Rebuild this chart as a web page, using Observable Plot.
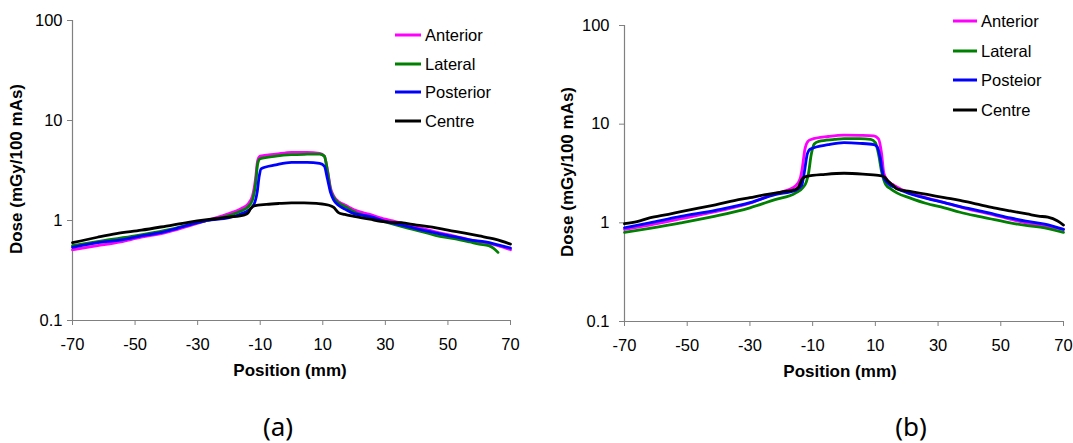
<!DOCTYPE html>
<html><head><meta charset="utf-8">
<script src="https://cdn.jsdelivr.net/npm/d3@7"></script>
<script src="https://cdn.jsdelivr.net/npm/@observablehq/plot@0.6"></script>
<style>
body{margin:0;background:#fff;}
#wrap{position:relative;width:1073px;height:443px;overflow:hidden;font-family:"Liberation Sans",Arial,sans-serif;color:#000;}
.panel{position:absolute;top:0;}
.ytitle{position:absolute;font-weight:bold;font-size:17px;white-space:nowrap;transform:translate(-50%,-50%) rotate(-90deg);}
.xtitle{position:absolute;font-weight:bold;font-size:17px;white-space:nowrap;transform:translate(-50%,-50%);}
.cap{position:absolute;font-family:"Noto Sans",sans-serif;font-size:26px;white-space:nowrap;transform:translate(-50%,-50%);}
.row{position:absolute;display:flex;align-items:center;white-space:nowrap;font-size:16.5px;transform:translateY(-50%);}
.sw{display:inline-block;height:3px;margin-right:4px;}
</style>
</head><body>
<div id="wrap"></div>
<script>
// ---- shared axis settings ----
const xDomain = [-70, 70];
const yDomain = [0.1, 100];
const xTicks = [-70, -50, -30, -10, 10, 30, 50, 70];
const yTicks = [0.1, 1, 10, 100];
const seriesNames = ["Anterior", "Lateral", "Posterior", "Centre"];
const seriesNamesB = ["Anterior", "Lateral", "Posteior", "Centre"];
const seriesColors = ["#ff00ff", "#008000", "#0000ff", "#000000"];
const yTitle = "Dose (mGy/100 mAs)";
const xTitle = "Position (mm)";
const captions = ["(a)", "(b)"];

// ---- panel (a) ----
const aAntX = [-70,-62,-56,-48,-40,-33,-27,-20,-16,-14,-12.5,-11.5,-10.8,-10,-5,0,5,9,10.5,11.5,12.5,13.5,15,17.5,20,25,30,36,42,46,52,57,62,66,70];
const aAntY = [0.51,0.56,0.60,0.68,0.76,0.88,1.0,1.17,1.32,1.45,1.75,2.6,4.0,4.4,4.6,4.8,4.8,4.7,4.4,3.2,2.1,1.75,1.55,1.41,1.28,1.15,1.03,0.93,0.83,0.77,0.70,0.64,0.60,0.56,0.51];
const aLatX = [-70,-60,-50,-40,-30,-27,-20,-16,-14,-12.5,-11.5,-10.8,-10,-5,0,5,9,10.5,11.5,12.5,13.5,15,17.5,20,25,30,36,42,46,52,57,60,63,64.5,66];
const aLatY = [0.56,0.63,0.70,0.80,0.95,1.0,1.12,1.25,1.36,1.6,2.3,3.7,4.15,4.4,4.55,4.6,4.62,4.4,3.1,2.0,1.7,1.5,1.36,1.22,1.08,0.97,0.86,0.77,0.71,0.66,0.61,0.58,0.56,0.53,0.48];
const aPosX = [-70,-60,-56,-48,-40,-33,-27,-20,-16,-14,-12,-11,-10.3,-9.7,-5,0,5,9,10.5,11.5,12.5,13.5,15,17.5,20,25,30,36,42,46,52,57,62,66,70];
const aPosY = [0.54,0.61,0.63,0.70,0.78,0.90,1.0,1.07,1.17,1.25,1.45,1.9,2.8,3.3,3.6,3.82,3.82,3.72,3.5,2.6,1.9,1.6,1.42,1.28,1.17,1.10,0.98,0.89,0.80,0.75,0.69,0.64,0.61,0.57,0.53];
const aCenX = [-70,-62,-56,-48,-40,-33,-27,-20,-15,-14,-13,-12,-8,-4,0,4,8,12,13.5,15,17,20,25,30,35,40,45,50,55,60,65,70];
const aCenY = [0.60,0.68,0.74,0.80,0.88,0.96,1.02,1.08,1.14,1.18,1.32,1.40,1.45,1.48,1.50,1.50,1.48,1.42,1.35,1.20,1.15,1.10,1.03,0.97,0.95,0.90,0.86,0.80,0.75,0.70,0.65,0.58];

// ---- panel (b) ----
const bAntX = [-70,-62,-52,-41,-30,-22,-18,-15.5,-14,-13.3,-12.5,-11.5,-10.5,-5,0,5,9.5,11,12,12.7,14,16,21,26,32,37,42,48,53,58,64,70];
const bAntY = [0.86,0.95,1.10,1.30,1.58,1.98,2.15,2.36,2.8,3.6,5.5,6.7,7.0,7.5,7.75,7.7,7.6,7.1,5.0,3.2,2.65,2.4,2.0,1.8,1.6,1.45,1.32,1.2,1.09,1.0,0.93,0.86];
const bLatX = [-70,-62,-52,-41,-30,-22,-15.5,-13,-12,-11.3,-10.5,-9.5,-8,-3,0,5,8.5,10,11,12,13.3,15,17,21,26,32,37,42.5,48,53,58,64,70];
const bLatY = [0.80,0.88,1.0,1.17,1.42,1.72,2.0,2.3,2.6,3.2,4.8,6.3,6.7,7.0,7.15,7.15,7.0,6.5,5.0,3.3,2.45,2.2,2.0,1.79,1.58,1.42,1.28,1.17,1.08,1.0,0.94,0.89,0.80];
const bPosX = [-70,-62,-52,-41,-30,-22,-15.5,-13.5,-12.5,-11.7,-10.7,-5,0,5,9.5,10.6,11.6,12.5,13.8,16,21,26,32,37,42.5,48,53,58,64,70];
const bPosY = [0.89,1.0,1.16,1.34,1.6,1.93,2.13,2.4,3.5,5.0,5.6,6.2,6.5,6.4,6.2,5.9,4.5,3.0,2.55,2.3,1.97,1.78,1.6,1.46,1.34,1.22,1.12,1.04,0.97,0.86];
const bCenX = [-70,-66,-62,-56,-52,-46,-41,-35,-30,-25,-20,-15.5,-14.5,-13.3,-12,-6,0,6,11,12.7,14,15.9,17,21,26.5,32,37,42,47.8,53,58.4,62,65,68,70];
const bCenY = [0.98,1.03,1.12,1.22,1.3,1.42,1.52,1.68,1.8,1.93,2.05,2.18,2.3,2.8,2.95,3.1,3.18,3.12,3.02,2.95,2.65,2.36,2.2,2.08,1.94,1.8,1.69,1.56,1.42,1.32,1.23,1.17,1.14,1.05,0.95];

function rows(pairs, names) {
  const out = [];
  pairs.forEach(([xs, ys], i) => xs.forEach((x, j) => out.push({series: names[i], order: i, x, y: ys[j]})));
  return out;
}
const dataA = rows([[aAntX, aAntY], [aLatX, aLatY], [aPosX, aPosY], [aCenX, aCenY]], seriesNames);
const dataB = rows([[bAntX, bAntY], [bLatX, bLatY], [bPosX, bPosY], [bCenX, bCenY]], seriesNamesB);

function makePanel(data, names, o) {
  const marks = [];
  names.forEach((n, i) => {
    marks.push(Plot.line(data.filter(d => d.series === n), {
      x: "x", y: "y", stroke: seriesColors[i], strokeWidth: 2.8, curve: "monotone-x"
    }));
  });
  return Plot.plot({
    width: o.width, height: o.height,
    marginLeft: o.ml, marginRight: o.mr, marginTop: o.mt, marginBottom: o.mb,
    style: {fontFamily: "'Liberation Sans', Arial, sans-serif", fontSize: "16.5px", color: "#000", background: "transparent", overflow: "visible"},
    x: {domain: xDomain},
    y: {type: "log", domain: yDomain},
    marks: [
      Plot.axisX({ticks: xTicks, tickSize: 5, tickPadding: 13, stroke: "#808080", label: null, tickFormat: d => String(d)}),
      Plot.axisY({ticks: yTicks, tickSize: 5, tickPadding: o.ypad, stroke: "#808080", label: null, tickFormat: d => String(d)}),
      Plot.ruleX([xDomain[0]], {stroke: "#808080", strokeWidth: 1.2}),
      Plot.ruleY([yDomain[0]], {stroke: "#808080", strokeWidth: 1.2}),
      ...marks
    ]
  });
}

const wrap = document.getElementById("wrap");
function place(el, left) { el.classList.add("panel"); el.style.left = left + "px"; wrap.appendChild(el); }

place(makePanel(dataA, seriesNames, {width: 540, height: 390, ml: 72, mr: 30, mt: 20, mb: 70, ypad: 5}), 0);
place(makePanel(dataB, seriesNamesB, {width: 533, height: 390, ml: 84, mr: 10, mt: 25, mb: 69, ypad: 10}), 540);

function addText(cls, txt, x, y) {
  const d = document.createElement("div");
  d.className = cls; d.textContent = txt; d.style.left = x + "px"; d.style.top = y + "px";
  wrap.appendChild(d);
}
addText("ytitle", yTitle, 17, 169);
addText("ytitle", yTitle, 568, 172);
addText("xtitle", xTitle, 290, 371);
addText("xtitle", xTitle, 840, 372);
addText("cap", captions[0], 278, 426);
addText("cap", captions[1], 911, 426);

function legend(names, x, y0, dy, swW) {
  names.forEach((n, i) => {
    const r = document.createElement("div");
    r.className = "row";
    r.style.left = x + "px"; r.style.top = (y0 + i * dy) + "px";
    const s = document.createElement("span");
    s.className = "sw"; s.style.width = swW + "px"; s.style.background = seriesColors[i];
    const t = document.createElement("span"); t.textContent = n;
    r.appendChild(s); r.appendChild(t); wrap.appendChild(r);
  });
}
legend(seriesNames, 395, 35, 28.5, 26);
legend(seriesNamesB, 953, 21, 29.7, 24);
</script>
</body></html>
